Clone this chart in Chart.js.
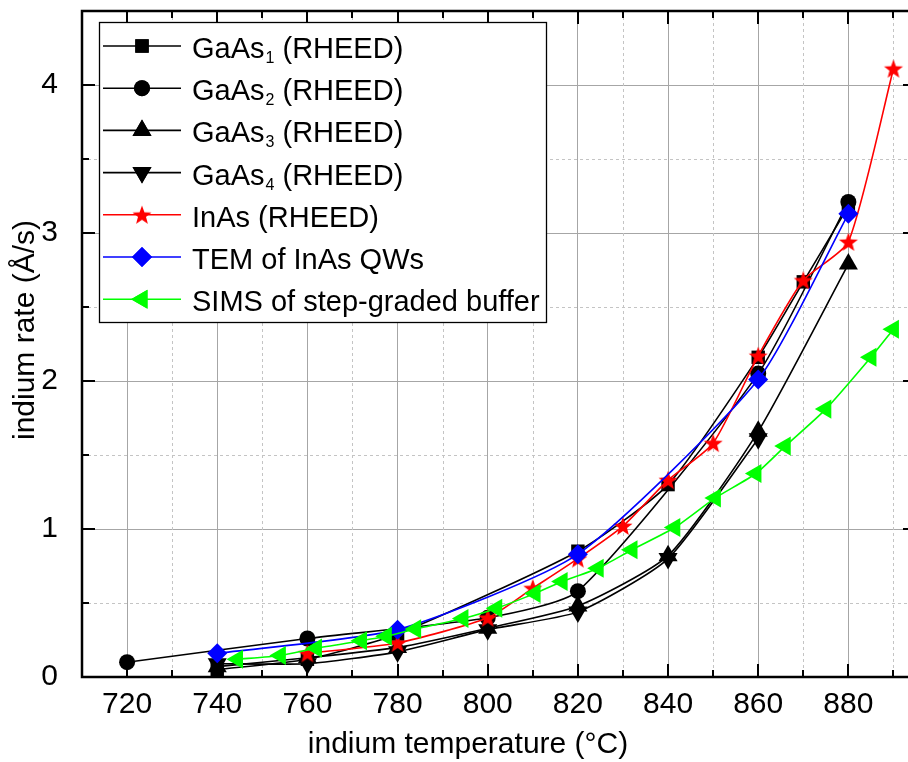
<!DOCTYPE html>
<html>
<head>
<meta charset="utf-8">
<script src="https://cdn.jsdelivr.net/npm/chart.js@4.4.1/dist/chart.umd.min.js"></script>
<style>
  html, body { margin: 0; padding: 0; overflow: hidden; background: #fff; width: 908px; height: 762px; }
  #wrap { position: absolute; left: 0; top: 0; width: 940px; height: 762px; }
</style>
</head>
<body>
<div id="wrap"><canvas id="c"></canvas></div>
<script>
// Axis ticks
const xTicks = [720, 740, 760, 780, 800, 820, 840, 860, 880];
const xMinorTicks = [730, 750, 770, 790, 810, 830, 850, 870, 890];
const yTicks = [0, 1, 2, 3, 4];
const yMinorTicks = [0.5, 1.5, 2.5, 3.5];

// Indium rate (Å/s) versus indium cell temperature (°C)
const gaas1Temp = [740, 760, 780, 820, 840, 860, 870, 880];
const gaas1Rate = [0.05, 0.12, 0.29, 0.85, 1.30, 2.16, 2.67, 3.18];

const gaas2Temp = [720, 760, 800, 820, 860, 880];
const gaas2Rate = [0.10, 0.26, 0.40, 0.58, 2.05, 3.21];

const gaas3Temp = [740, 760, 780, 800, 820, 840, 860, 880];
const gaas3Rate = [0.07, 0.13, 0.20, 0.33, 0.48, 0.82, 1.66, 2.79];

const gaas4Temp = [740, 760, 780, 800, 820, 840, 860];
const gaas4Rate = [0.09, 0.09, 0.17, 0.32, 0.44, 0.80, 1.61];

const inasTemp = [760, 780, 800, 810, 820, 830, 840, 850, 860, 870, 880, 890];
const inasRate = [0.16, 0.23, 0.40, 0.60, 0.80, 1.02, 1.33, 1.58, 2.17, 2.68, 2.94, 4.11];

const temTemp = [740, 780, 820, 860, 880];
const temRate = [0.16, 0.32, 0.83, 2.01, 3.13];

const simsTemp = [744.5, 754, 762, 772, 777.5, 784, 794.5, 802, 810.5, 816.5, 824.5, 832, 841.5, 850.5, 859.5, 866, 875, 885, 890];
const simsRate = [0.12, 0.145, 0.195, 0.245, 0.275, 0.325, 0.395, 0.465, 0.565, 0.645, 0.735, 0.86, 1.01, 1.21, 1.375, 1.56, 1.81, 2.16, 2.35];

const AXIS_FONT = "'Liberation Sans', Arial, sans-serif";
const LEGEND_FONT = "'Liberation Sans', Arial, sans-serif";

function pairs(xs, ys) { return xs.map((x, i) => ({ x: x, y: ys[i] })); }

// Filled five-pointed star used as a point style
function makeStar(r, color) {
  const s = Math.ceil(r * 2 + 2);
  const c = document.createElement('canvas');
  c.width = s; c.height = s;
  const g = c.getContext('2d');
  g.fillStyle = color;
  g.beginPath();
  for (let i = 0; i < 10; i++) {
    const rad = i % 2 === 0 ? r : r * 0.42;
    const a = -Math.PI / 2 + i * Math.PI / 5;
    const px = s / 2 + rad * Math.cos(a), py = s / 2 + rad * Math.sin(a) + 0.8;
    if (i === 0) g.moveTo(px, py); else g.lineTo(px, py);
  }
  g.closePath();
  g.fill();
  return c;
}
const redStar = makeStar(10, '#ff0000');

function series(label, sub, xs, ys, color, style, radius, rotation) {
  return {
    label: label,
    sub: sub,
    data: pairs(xs, ys),
    borderColor: color,
    backgroundColor: color,
    borderWidth: 1.6,
    pointStyle: style,
    pointRadius: radius,
    pointHoverRadius: radius,
    pointRotation: rotation || 0,
    pointBorderWidth: 0,
    pointBackgroundColor: color,
    tension: 0.2,
    fill: false
  };
}

const datasets = [
  series('GaAs', '1', gaas1Temp, gaas1Rate, '#000000', 'rect', 9.5),
  series('GaAs', '2', gaas2Temp, gaas2Rate, '#000000', 'circle', 8),
  series('GaAs', '3', gaas3Temp, gaas3Rate, '#000000', 'triangle', 11),
  series('GaAs', '4', gaas4Temp, gaas4Rate, '#000000', 'triangle', 11, 180),
  series('InAs (RHEED)', '', inasTemp, inasRate, '#ff0000', redStar, 10),
  series('TEM of InAs QWs', '', temTemp, temRate, '#0000ff', 'rectRot', 10),
  series('SIMS of step-graded buffer', '', simsTemp, simsRate, '#00ff00', 'triangle', 11, -90)
];
// later series are drawn on top
datasets.forEach((d, i) => { d.order = datasets.length - i; });

function drawMarker(ctx, ds, x, y) {
  if (ds.pointStyle instanceof HTMLCanvasElement) {
    ctx.drawImage(ds.pointStyle, x - ds.pointStyle.width / 2, y - ds.pointStyle.height / 2);
    return;
  }
  ctx.fillStyle = ds.pointBackgroundColor;
  Chart.helpers.drawPoint(ctx, { pointStyle: ds.pointStyle, radius: ds.pointRadius, rotation: ds.pointRotation, borderWidth: 0 }, x, y);
  ctx.fill();
}

const framePlugin = {
  id: 'frame',
  beforeDatasetsDraw(chart) {
    const ctx = chart.ctx, a = chart.chartArea;
    const xs = chart.scales.x, ys = chart.scales.y;
    ctx.save();
    ctx.strokeStyle = '#c4c4c4';
    ctx.lineWidth = 1;
    ctx.setLineDash([3, 3]);
    xMinorTicks.forEach(v => {
      const px = Math.round(xs.getPixelForValue(v)) + 0.5;
      ctx.beginPath(); ctx.moveTo(px, a.top); ctx.lineTo(px, a.bottom); ctx.stroke();
    });
    yMinorTicks.forEach(v => {
      const py = Math.round(ys.getPixelForValue(v)) + 0.5;
      ctx.beginPath(); ctx.moveTo(a.left, py); ctx.lineTo(a.right, py); ctx.stroke();
    });
    ctx.restore();
  },
  afterDatasetsDraw(chart) {
    const ctx = chart.ctx, a = chart.chartArea;
    const xs = chart.scales.x, ys = chart.scales.y;
    ctx.save();
    // inward tick marks on all four sides
    ctx.strokeStyle = '#000';
    ctx.lineWidth = 2;
    const tick = (x1, y1, x2, y2) => { ctx.beginPath(); ctx.moveTo(x1, y1); ctx.lineTo(x2, y2); ctx.stroke(); };
    xTicks.forEach(v => {
      const px = Math.round(xs.getPixelForValue(v));
      tick(px, a.bottom, px, a.bottom - 13);
      tick(px, a.top, px, a.top + 13);
    });
    xMinorTicks.forEach(v => {
      const px = Math.round(xs.getPixelForValue(v));
      tick(px, a.bottom, px, a.bottom - 7);
      tick(px, a.top, px, a.top + 7);
    });
    yTicks.forEach(v => {
      const py = Math.round(ys.getPixelForValue(v));
      tick(a.left, py, a.left + 13, py);
      tick(a.right, py, a.right - 13, py);
    });
    yMinorTicks.forEach(v => {
      const py = Math.round(ys.getPixelForValue(v));
      tick(a.left, py, a.left + 7, py);
      tick(a.right, py, a.right - 7, py);
    });
    // frame
    ctx.lineWidth = 2.5;
    ctx.strokeRect(a.left, a.top, a.right - a.left, a.bottom - a.top);

    // legend
    const lx = 99, ly = 22, lw = 447, lh = 300;
    ctx.fillStyle = '#fff';
    ctx.fillRect(lx, ly, lw, lh);
    ctx.lineWidth = 1.3;
    ctx.strokeStyle = '#000';
    ctx.strokeRect(lx + 0.5, ly + 0.5, lw, lh);
    chart.data.datasets.forEach((ds, i) => {
      const cy = 46 + i * 42.2;
      ctx.strokeStyle = ds.borderColor;
      ctx.lineWidth = 1.6;
      ctx.setLineDash([]);
      ctx.beginPath(); ctx.moveTo(103, cy); ctx.lineTo(181, cy); ctx.stroke();
      drawMarker(ctx, ds, 142, cy);
      ctx.fillStyle = '#000';
      ctx.textAlign = 'left';
      ctx.textBaseline = 'alphabetic';
      ctx.font = '29px ' + LEGEND_FONT;
      const base = cy + 12;
      let tx = 192;
      ctx.fillText(ds.label, tx, base);
      if (ds.sub) {
        tx += ctx.measureText(ds.label).width + 1;
        ctx.font = '16px ' + LEGEND_FONT;
        ctx.fillText(ds.sub, tx, base + 5);
        tx += ctx.measureText(ds.sub).width;
        ctx.font = '29px ' + LEGEND_FONT;
        ctx.fillText(' (RHEED)', tx, base);
      }
    });

    // axis titles
    ctx.fillStyle = '#000';
    ctx.font = '30px ' + AXIS_FONT;
    ctx.textAlign = 'center';
    ctx.textBaseline = 'middle';
    ctx.fillText('indium temperature (\u00B0C)', 468, 745);
    ctx.translate(26, 330);
    ctx.rotate(-Math.PI / 2);
    ctx.fillText('indium rate (\u00C5/s)', 0, 0);
    ctx.restore();
  }
};

new Chart(document.getElementById('c'), {
  type: 'line',
  data: { datasets: datasets },
  options: {
    responsive: true,
    maintainAspectRatio: false,
    animation: false,
    events: [],
    layout: { padding: { left: 0, right: 24, top: 6, bottom: 0 } },
    plugins: { legend: { display: false }, tooltip: { enabled: false } },
    scales: {
      x: {
        type: 'linear',
        min: 710,
        max: 895,
        afterBuildTicks: s => { s.ticks = xTicks.map(v => ({ value: v })); },
        afterFit: s => { s.height = 85; s.paddingLeft = 0; s.paddingRight = 0; },
        grid: { color: '#a6a6a6', lineWidth: 1, drawTicks: false },
        border: { display: false },
        ticks: {
          autoSkip: false, maxRotation: 0, padding: 10, color: '#000',
          font: { family: AXIS_FONT, size: 30 }
        }
      },
      y: {
        type: 'linear',
        min: 0,
        max: 4.5,
        afterBuildTicks: s => { s.ticks = yTicks.map(v => ({ value: v })); },
        afterFit: s => { s.width = 82; s.paddingTop = 0; s.paddingBottom = 0; },
        grid: { color: '#a6a6a6', lineWidth: 1, drawTicks: false },
        border: { display: false },
        ticks: {
          padding: 24, color: '#000',
          font: { family: AXIS_FONT, size: 30 }
        }
      }
    }
  },
  plugins: [framePlugin]
});
</script>
</body>
</html>
